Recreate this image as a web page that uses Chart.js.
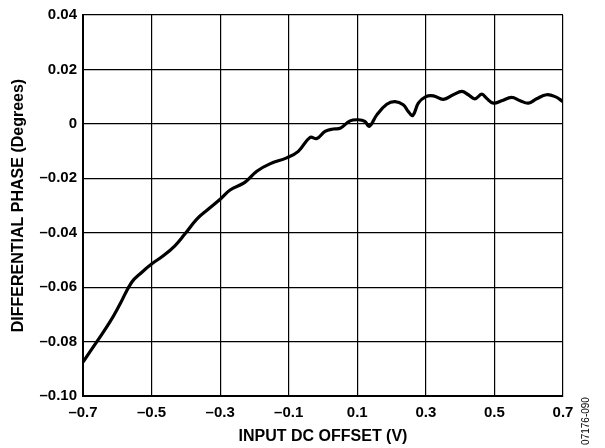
<!DOCTYPE html>
<html>
<head>
<meta charset="utf-8">
<script src="https://cdn.jsdelivr.net/npm/chart.js@4/dist/chart.umd.min.js"></script>
<style>
  html, body { margin: 0; padding: 0; background: #fff; }
  #wrap { width: 605px; height: 448px; position: relative; }
</style>
</head>
<body>
<div id="wrap"><canvas id="myChart"></canvas></div>
<script>
// data
const offsetV = [
  -0.700, -0.660, -0.621, -0.592, -0.558, -0.529, -0.500, -0.466, -0.432, -0.403,
  -0.368, -0.335, -0.300, -0.271, -0.228, -0.193, -0.155, -0.106, -0.072, -0.038,
  -0.018, 0.006, 0.030, 0.050, 0.079, 0.103, 0.122, 0.135, 0.157, 0.186,
  0.210, 0.234, 0.249, 0.262, 0.278, 0.300, 0.322, 0.351, 0.380, 0.405,
  0.424, 0.443, 0.463, 0.477, 0.497, 0.521, 0.550, 0.575, 0.599, 0.623,
  0.652, 0.677, 0.700
];
const phaseDeg = [
  -0.0875, -0.0801, -0.0727, -0.0662, -0.0582, -0.0546, -0.0515, -0.0485, -0.0448, -0.0405,
  -0.0350, -0.0314, -0.0277, -0.0243, -0.0215, -0.0174, -0.0147, -0.0125, -0.0101, -0.0050,
  -0.0054, -0.0028, -0.0019, -0.0016, 0.0011, 0.0015, 0.0009, -0.0009, 0.0033, 0.0072,
  0.0082, 0.0070, 0.0045, 0.0031, 0.0076, 0.0100, 0.0103, 0.0090, 0.0107, 0.0119,
  0.0107, 0.0092, 0.0109, 0.0094, 0.0076, 0.0085, 0.0097, 0.0085, 0.0076, 0.0092,
  0.0107, 0.0100, 0.0082
];
const xTicks = [-0.7, -0.5, -0.3, -0.1, 0.1, 0.3, 0.5, 0.7];
const xTickLabels = ['–0.7', '–0.5', '–0.3', '–0.1', '0.1', '0.3', '0.5', '0.7'];
const yTicks = [-0.10, -0.08, -0.06, -0.04, -0.02, 0, 0.02, 0.04];
const yTickLabels = ['–0.10', '–0.08', '–0.06', '–0.04', '–0.02', '0', '0.02', '0.04'];

const FONT = 'Arial, "Liberation Sans", Helvetica, sans-serif';

// figure id on the right edge
const figId = {
    id: 'figId',
    afterDraw(chart) {
        const c = chart.ctx;
        c.save();
        c.translate(586, 421);
        c.rotate(-Math.PI / 2);
        c.font = '10px ' + FONT;
        c.fillStyle = '#000';
        c.textAlign = 'center';
        c.textBaseline = 'middle';
        c.fillText('07176-090', 0, 0);
        c.restore();
    }
};

const ctx = document.getElementById('myChart').getContext('2d');
const chart = new Chart(ctx, {
    type: 'line',
    data: {
        datasets: [{
            data: offsetV.map((v, i) => ({ x: v, y: phaseDeg[i] })),
            borderColor: '#000',
            borderWidth: 3.2,
            pointRadius: 0,
            tension: 0.4,
            fill: false
        }]
    },
    options: {
        responsive: true,
        maintainAspectRatio: false,
        animation: false,
        layout: { padding: { top: 13, right: 42, left: 0, bottom: 0 } },
        plugins: {
            legend: { display: false },
            tooltip: { enabled: false }
        },
        scales: {
            x: {
                type: 'linear',
                min: -0.7,
                max: 0.7,
                afterBuildTicks: (s) => { s.ticks = xTicks.map(v => ({ value: v })); },
                afterFit: (s) => { s.height = 52; },
                ticks: {
                    color: '#000',
                    padding: 8,
                    maxRotation: 0,
                    autoSkip: false,
                    font: { family: FONT, size: 15, weight: 'bold' },
                    callback: (v, i) => xTickLabels[i]
                },
                grid: { color: '#000', lineWidth: 1.2, drawTicks: false },
                border: { color: '#000', width: 2 },
                title: {
                    display: true,
                    text: 'INPUT DC OFFSET (V)',
                    color: '#000',
                    padding: { top: 0, bottom: 2 },
                    font: { family: FONT, size: 16, weight: 'bold' }
                }
            },
            y: {
                min: -0.10,
                max: 0.04,
                afterBuildTicks: (s) => { s.ticks = yTicks.map(v => ({ value: v })); },
                afterFit: (s) => { s.width = 83; },
                ticks: {
                    color: '#000',
                    padding: 6,
                    autoSkip: false,
                    font: { family: FONT, size: 15, weight: 'bold' },
                    callback: (v, i) => yTickLabels[i]
                },
                grid: { color: '#000', lineWidth: 1.2, drawTicks: false },
                border: { color: '#000', width: 2 },
                title: {
                    display: true,
                    text: 'DIFFERENTIAL PHASE (Degrees)',
                    color: '#000',
                    padding: { top: 9, bottom: 0 },
                    font: { family: FONT, size: 16, weight: 'bold' }
                }
            }
        }
    },
    plugins: [figId]
});
</script>
</body>
</html>
